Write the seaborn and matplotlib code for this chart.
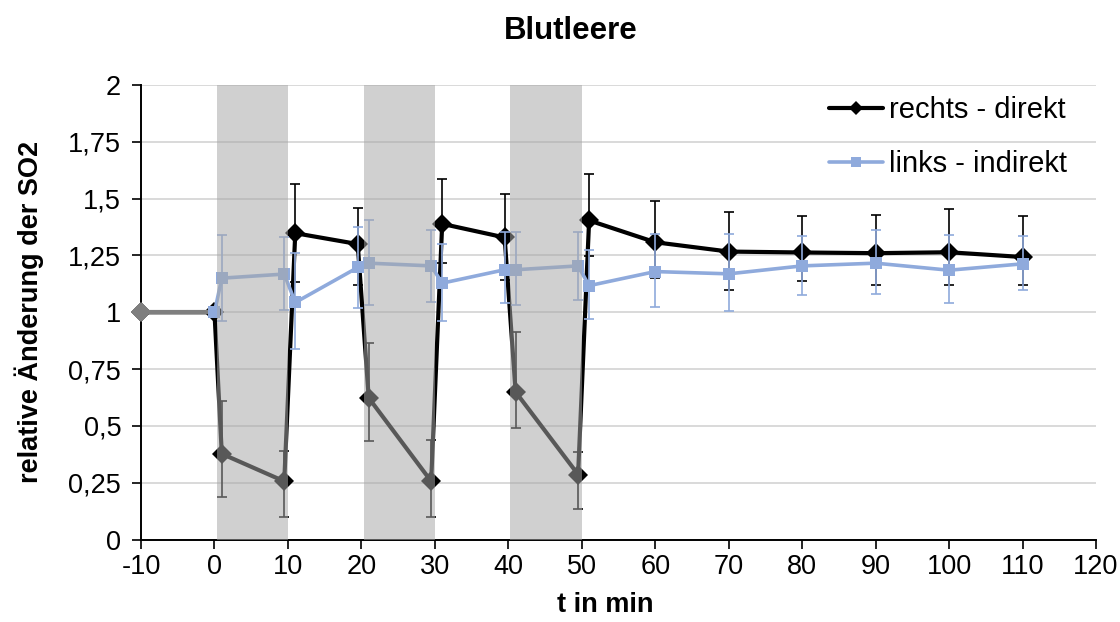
import matplotlib
matplotlib.use("Agg")
import matplotlib.pyplot as plt
from matplotlib.lines import Line2D
from matplotlib.ticker import FuncFormatter, MultipleLocator
import seaborn as sns

# ---------------- data ----------------
t_min = [-10, 0, 1, 9.5, 11, 19.5, 21, 29.5, 31, 39.5, 41, 49.5, 51,
         60, 70, 80, 90, 100, 110]

rechts = [1.0, 1.0, 0.377, 0.256, 1.348, 1.300, 0.623, 0.256, 1.389,
          1.329, 0.649, 0.286, 1.404, 1.308, 1.267, 1.263, 1.260, 1.264, 1.243]
rechts_hi = [1.0, 1.0, 0.608, 0.388, 1.565, 1.458, 0.865, 0.440, 1.585,
             1.519, 0.911, 0.385, 1.609, 1.490, 1.440, 1.425, 1.429, 1.456, 1.425]
rechts_lo = [1.0, 1.0, 0.186, 0.098, 1.135, 1.118, 0.432, 0.098, 1.216,
             1.140, 0.491, 0.136, 1.248, 1.149, 1.099, 1.137, 1.121, 1.118, 1.118]

links = [1.0, 1.0, 1.150, 1.168, 1.043, 1.197, 1.216, 1.204, 1.128,
         1.187, 1.187, 1.204, 1.117, 1.179, 1.169, 1.204, 1.216, 1.185, 1.213]
links_hi = [1.0, 1.0, 1.341, 1.329, 1.260, 1.377, 1.407, 1.363, 1.300,
            1.351, 1.351, 1.351, 1.275, 1.344, 1.345, 1.336, 1.360, 1.338, 1.336]
links_lo = [1.0, 1.0, 0.960, 1.011, 0.840, 1.018, 1.030, 1.045, 0.960,
            1.040, 1.033, 1.055, 0.970, 1.021, 1.004, 1.077, 1.081, 1.040, 1.096]

shade_start = [0.4, 20.4, 40.2]
shade_end = [10, 30, 50]

series_labels = ["rechts - direkt", "links - indirekt"]
title = "Blutleere"
xlabel = "t in min"
ylabel = "relative Änderung der SO2"
x_ticks = list(range(-10, 121, 10))

# ---------------- style ----------------
sns.set_theme(style="white")
plt.rcParams["font.family"] = ["Liberation Sans", "DejaVu Sans"]
plt.rcParams["axes.unicode_minus"] = False

BLACK = "#000000"
BLUE = "#8FAADC"
GRAY = "#7F7F7F"

fig, ax = plt.subplots(figsize=(11.2, 6.22), dpi=100)
fig.subplots_adjust(left=141 / 1120, right=1096 / 1120,
                    top=1 - 85 / 622, bottom=1 - 539.5 / 622)

# error bars
ax.errorbar(t_min, rechts,
            yerr=[[v - l for v, l in zip(rechts, rechts_lo)],
                  [h - v for v, h in zip(rechts, rechts_hi)]],
            fmt="none", ecolor=BLACK, elinewidth=1.2, capsize=3.9,
            capthick=1.2, zorder=2)
ax.errorbar(t_min[1:], links[1:],
            yerr=[[v - l for v, l in zip(links[1:], links_lo[1:])],
                  [h - v for v, h in zip(links[1:], links_hi[1:])]],
            fmt="none", ecolor=BLUE, elinewidth=1.2, capsize=3.9,
            capthick=1.2, zorder=3.2)

# lines
sns.lineplot(x=t_min, y=rechts, ax=ax, color=BLACK, marker="D",
             markersize=10.5, markeredgewidth=0, linewidth=3.0, sort=False,
             zorder=3, legend=False, clip_on=False)
sns.lineplot(x=t_min[:2], y=rechts[:2], ax=ax, color=GRAY, marker="D",
             markersize=10.5, markeredgewidth=0, linewidth=3.0, sort=False,
             markevery=[0], zorder=3.5, legend=False, clip_on=False)
sns.lineplot(x=t_min[1:], y=links[1:], ax=ax, color=BLUE, marker="s",
             markersize=9, markeredgewidth=0, linewidth=2.6, sort=False,
             zorder=4, legend=False, clip_on=False)

# semi-transparent shading on top
for s, e in zip(shade_start, shade_end):
    ax.axvspan(s, e, ymin=0, ymax=1, facecolor=(167 / 255,) * 3,
               alpha=0.533, lw=0, zorder=5)

# axes
ax.set_xlim(-10, 120)
ax.set_ylim(0, 2)
ax.set_xticks(x_ticks)
ax.yaxis.set_major_locator(MultipleLocator(0.25))
ax.yaxis.set_major_formatter(
    FuncFormatter(lambda v, p: ("%g" % v).replace(".", ",")))
ax.grid(axis="y", color="#D9D9D9", linewidth=1.4, zorder=0)
ax.grid(axis="x", visible=False)
ax.set_axisbelow(True)
for side in ("top", "right"):
    ax.spines[side].set_visible(False)
for side in ("left", "bottom"):
    ax.spines[side].set_color(BLACK)
    ax.spines[side].set_linewidth(1.4)
ax.tick_params(axis="both", which="major", labelsize=19.5, colors=BLACK,
               direction="out", length=6.3, width=1.2)
ax.tick_params(axis="y", pad=8)
ax.tick_params(axis="x", pad=4)
ax.tick_params(left=True, bottom=True)

ax.set_xlabel(xlabel, fontsize=19.5, fontweight="bold", color=BLACK)
ax.set_ylabel(ylabel, fontsize=19.5, fontweight="bold", color=BLACK)
ax.xaxis.set_label_coords((605 - 141) / 955, -0.115)
ax.yaxis.set_label_coords(-0.102, 0.5)

fig.text(571 / 1120, 1 - 31 / 622, title, ha="center", va="center",
         fontsize=22.5, fontweight="bold", color=BLACK)

handles = [
    Line2D([], [], color=BLACK, linewidth=3.0, marker="D", markersize=7.5,
           markeredgewidth=0),
    Line2D([], [], color=BLUE, linewidth=2.6, marker="s", markersize=7,
           markeredgewidth=0),
]
leg = ax.legend(handles, series_labels, loc="upper left",
                bbox_to_anchor=(829 / 1120, 1 - 96 / 622),
                bbox_transform=fig.transFigure, frameon=False,
                fontsize=21, handlelength=1.85, handletextpad=0.2,
                borderpad=0, borderaxespad=0, labelspacing=0.9)
leg.set_zorder(10)
for txt in leg.get_texts():
    txt.set_color(BLACK)

fig.savefig("out.png", dpi=100)
